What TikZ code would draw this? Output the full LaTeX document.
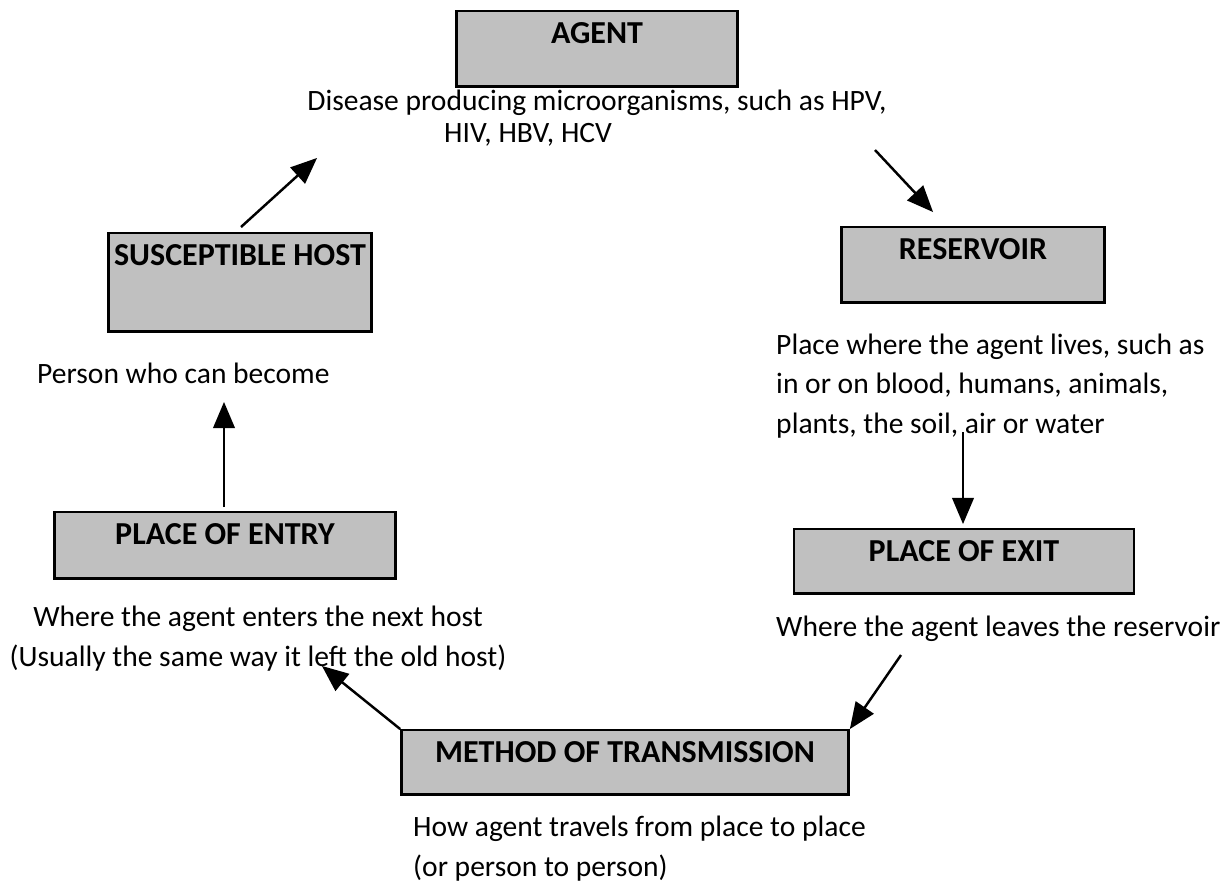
\documentclass[tikz,border=0pt]{standalone}
\usepackage{fontspec}
\setmainfont{Carlito}
\usetikzlibrary{%
  arrows,%
  positioning,%
  calc%
}
\definecolor{boxgray}{RGB}{192,192,192}

\begin{document}
\begin{tikzpicture}[
  x=0.01cm, y=-0.01cm,
  >=triangle 45, line width=0.7pt,
  box/.style={rectangle, draw=black, line width=0.7pt, fill=boxgray, anchor=north,
    inner sep=0pt, text height=0.32cm, font=\fontsize{9.1}{10}\selectfont\bfseries},
  desc/.style={inner sep=0pt, font=\fontsize{8.4}{11.2}\selectfont},
  flow/.style={->, line width=0.7pt}
]
\useasboundingbox (0,0) rectangle (1228,884);

\node[box, minimum width=2.81cm, text depth=0.43cm] (agent) at (597,10) {AGENT};
  \node[desc, anchor=base] (agent-text1) at (597,110) {Disease producing microorganisms, such as HPV,};
  \node[desc, anchor=base west] (agent-text2) at (443,142) {HIV, HBV, HCV};
\node[box, minimum width=2.63cm, text depth=0.43cm] (reservoir) at (973,226) {RESERVOIR};
  \node[desc, anchor=base west, align=left] (reservoir-text) at (775,433)
    {Place where the agent lives, such as\\in or on blood, humans, animals,\\plants, the soil, air or water};
\node[box, minimum width=3.40cm, text depth=0.32cm] (exit) at (964,528) {PLACE OF EXIT};
  \node[desc, anchor=base west] (exit-text) at (775,636) {Where the agent leaves the reservoir};
\node[box, minimum width=4.47cm, text depth=0.32cm] (method) at (625,729) {METHOD OF TRANSMISSION};
  \node[desc, anchor=base west, align=left] (method-text) at (412,876)
    {How agent travels from place to place\\(or person to person)};
\node[box, minimum width=3.41cm, text depth=0.34cm] (entry) at (225,511) {PLACE OF ENTRY};
  \node[desc, anchor=base, align=center] (entry-text) at (258,666)
    {Where the agent enters the next host\\(Usually the same way it left the old host)};
\node[box, minimum width=2.63cm, text depth=0.66cm] (host) at (240,232) {SUSCEPTIBLE HOST};
  \node[desc, anchor=base west] (host-text) at (36,383) {Person who can become};

% free ends of the arrows
\coordinate (agent-out) at (875,150);
\coordinate (reservoir-in) at (933,212);
\coordinate (reservoir-out) at (963,432);
\coordinate (exit-in) at (963,524);
\coordinate (exit-out) at (901,655);
\coordinate (entry-in) at (322,666);
\coordinate (entry-out) at (224,507);
\coordinate (host-in) at (224,402);
\coordinate (host-out) at (241,227);
\coordinate (agent-in) at (317,158);

\draw[flow] (agent-out) -- (reservoir-in);
\draw[flow] (reservoir-out) -- (exit-in);
\draw[flow] (exit-out) -- (method.north east);
\draw[flow] (method.north west) -- (entry-in);
\draw[flow] (entry-out) -- (host-in);
\draw[flow] (host-out) -- (agent-in);
\end{tikzpicture}
\end{document}
